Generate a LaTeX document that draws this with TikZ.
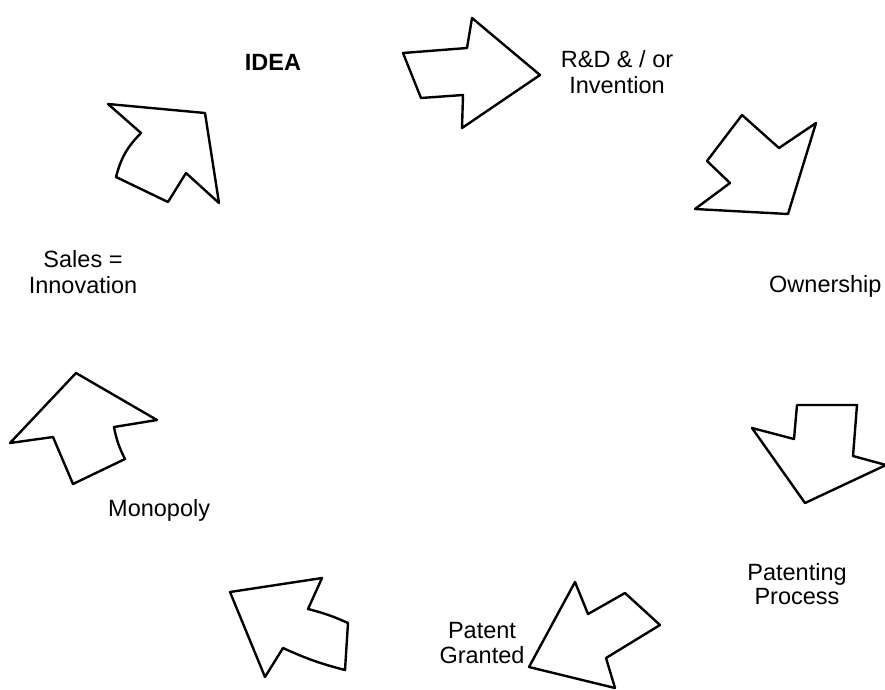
\documentclass[tikz,border=0pt]{standalone}
\usepackage{fontspec}
\setmainfont{Liberation Sans}
\tikzset{
  bigarrow/.style={draw=black, fill=white, line width=2.4pt, line join=round},
  lbl/.style={anchor=base, inner sep=0pt, font=\fontsize{23.5}{26}\selectfont},
  lblb/.style={lbl, font=\fontsize{23.5}{26}\selectfont\bfseries}
}
\begin{document}
\begin{tikzpicture}[x=1pt,y=-1pt]
\useasboundingbox (0,0) rectangle (885,689);
% arrow 1: top, pointing right
\draw[bigarrow] (403,53) -- (467,48) -- (472,18) -- (540,75) -- (462,128) -- (463,95) -- (421,98) -- cycle;
% arrow 2: upper right, pointing down-right
\draw[bigarrow] (742,115) -- (779,148) -- (816,123) -- (788,214) -- (695,209) -- (730,183) -- (707,161) -- cycle;
% arrow 3: right, pointing down
\draw[bigarrow] (797,405) -- (857,405) -- (853,456) -- (886,465) -- (805,503) -- (752,428) -- (794,439) -- cycle;
% arrow 4: bottom right, pointing down-left
\draw[bigarrow] (575,582) -- (588,614) -- (625,593) -- (660,625) -- (606,658) -- (615,688) -- (529,667) -- cycle;
% arrow 5: bottom left, pointing up-left
\draw[bigarrow] (230,592) -- (322,578) -- (308,609) to[bend left=5] (348,623) -- (345,670) to[bend left=5] (283,648) -- (265,677) -- cycle;
% arrow 6: left, pointing up
\draw[bigarrow] (76,373) -- (157,420) -- (114,427) to[bend right=8] (125,459) -- (73,484) -- (53,437) -- (10,443) -- cycle;
% arrow 7: upper left, pointing up-left
\draw[bigarrow] (108,104) -- (205,113) -- (219,203) -- (186,173) -- (168,202) -- (116,177) to[bend left=15] (141,133) -- cycle;
% labels
\node[lblb] (idea) at (273,70) {IDEA};
\node[lbl] (rd1) at (617,67) {R\&D \& / or};
\node[lbl] (rd2) at (617,93) {Invention};
\node[lbl, anchor=base west] (own) at (769,292) {Ownership};
\node[lbl] (pp1) at (797,580) {Patenting};
\node[lbl] (pp2) at (797,604) {Process};
\node[lbl] (pg1) at (482,638) {Patent};
\node[lbl] (pg2) at (482,663) {Granted};
\node[lbl, anchor=base west] (mono) at (108,516) {Monopoly};
\node[lbl] (sal1) at (83,267) {Sales =};
\node[lbl] (sal2) at (83,293) {Innovation};
\end{tikzpicture}
\end{document}
